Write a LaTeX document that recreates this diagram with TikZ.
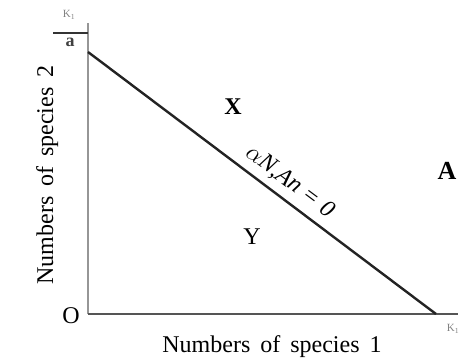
\documentclass[tikz,border=0pt]{standalone}
\usepackage{fontspec}
\setmainfont{Liberation Serif}
\usetikzlibrary{positioning,calc}
\definecolor{axisgray}{RGB}{150,150,150}
\definecolor{basegray}{RGB}{85,85,85}
\definecolor{linedark}{RGB}{35,35,35}
\definecolor{tickgray}{RGB}{130,130,130}
\newcommand\wordgap{\spaceskip=10pt\relax}
\tikzset{
    yaxis/.style={draw=axisgray, line width=2.6pt},
    xaxis/.style={draw=basegray, line width=2.4pt},
    isocline/.style={draw=linedark, line width=2.4pt},
    label/.style={font=\fontsize{24}{28}\selectfont\wordgap, inner sep=0pt},
    region/.style={font=\fontsize{24}{28}\selectfont, inner sep=0pt},
    tiny/.style={font=\fontsize{11}{12}\selectfont, inner sep=0pt, text=tickgray}
}
\begin{document}
\begin{tikzpicture}[x=1pt, y=-1pt]
\useasboundingbox (0,0) rectangle (463,359);
% axes
\coordinate (origin) at (88,314);
\coordinate (ytop) at (88,23);
\coordinate (xend) at (458,314);
\coordinate (yint) at (88,52);
\coordinate (xint) at (436,314);
\coordinate (barl) at (53,33);
\draw[yaxis] (ytop) -- (origin);
\draw[xaxis] (origin) -- (xend);
\draw[isocline] (yint) -- (xint);
% K1/a on the y axis
\draw[draw=black!80, line width=1.8pt] (barl) -- (ytop |- barl);
\node[tiny] (k1top) at (69,15) {K\textsubscript{1}};
\node[font=\fontsize{18}{20}\selectfont\bfseries, inner sep=0pt, text=black!75] (atop) at (70,42) {a};
\node[tiny] (k1right) at (453,329) {K\textsubscript{1}};
% labels
\node[label, anchor=center] (o) at (71,316) {O};
\node[label, anchor=base] (xlab) at (272,352) {Numbers of species 1};
\node[label, anchor=base, rotate=90] (ylab) at (53,175) {Numbers of species 2};
\node[region, font=\fontsize{24}{28}\selectfont\bfseries] (regx) at (233,107) {X};
\node[region] (regy) at (252,237) {Y};
\node[region, font=\fontsize{26}{30}\selectfont\bfseries] (rega) at (447,171) {A};
\node[label, font=\fontsize{24}{28}\selectfont\itshape, rotate=-36.8] (eq) at (290,182) {$\alpha$N,An = 0};
\end{tikzpicture}
\end{document}
